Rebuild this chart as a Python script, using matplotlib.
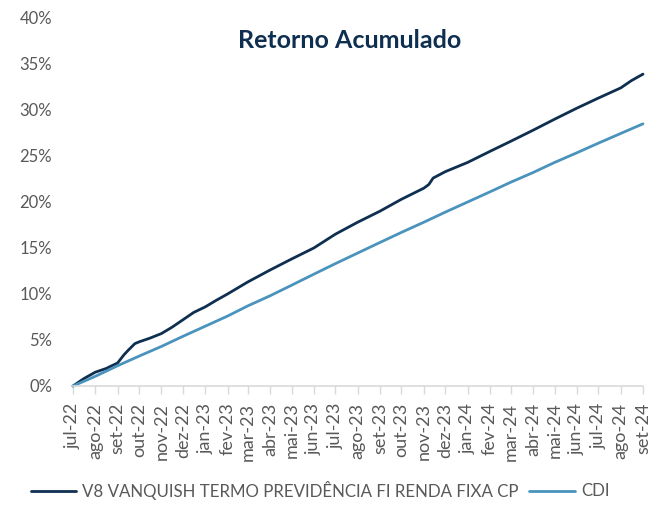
import matplotlib
matplotlib.use("Agg")
import matplotlib.pyplot as plt
import pandas as pd
from matplotlib.ticker import FuncFormatter

# ---- data ----
v8_dates = ["2022-07-01", "2022-07-16", "2022-08-01", "2022-08-16", "2022-09-01",
            "2022-09-10", "2022-09-16", "2022-09-25", "2022-10-01", "2022-10-16",
            "2022-11-01", "2022-11-16", "2022-12-01", "2022-12-16", "2023-01-01",
            "2023-01-16", "2023-02-01", "2023-03-01", "2023-04-01", "2023-05-01",
            "2023-06-01", "2023-07-01", "2023-08-01", "2023-09-01", "2023-10-01",
            "2023-11-01", "2023-11-08", "2023-11-14", "2023-12-01", "2024-01-01",
            "2024-02-01", "2024-03-01", "2024-04-01", "2024-05-01", "2024-06-01",
            "2024-07-01", "2024-08-01", "2024-08-16", "2024-09-01"]
v8_values = [0.0, 0.8, 1.5, 1.9, 2.5,
             3.4, 3.9, 4.6, 4.8, 5.2,
             5.7, 6.4, 7.2, 8.0, 8.6,
             9.3, 10.0, 11.3, 12.6, 13.8,
             15.0, 16.5, 17.8, 19.0, 20.3,
             21.5, 21.9, 22.6, 23.3, 24.3,
             25.5, 26.6, 27.8, 29.0, 30.2,
             31.3, 32.4, 33.2, 33.9]

cdi_dates = ["2022-07-01", "2022-08-01", "2022-09-01", "2022-10-01", "2022-11-01",
             "2022-12-01", "2023-01-01", "2023-02-01", "2023-03-01", "2023-04-01",
             "2023-05-01", "2023-06-01", "2023-07-01", "2023-08-01", "2023-09-01",
             "2023-10-01", "2023-11-01", "2023-12-01", "2024-01-01", "2024-02-01",
             "2024-03-01", "2024-04-01", "2024-05-01", "2024-06-01", "2024-07-01",
             "2024-08-01", "2024-09-01"]
cdi_values = [0.0, 1.05, 2.2, 3.25, 4.3,
              5.4, 6.5, 7.6, 8.7, 9.8,
              10.95, 12.15, 13.3, 14.45, 15.6,
              16.7, 17.8, 18.9, 20.0, 21.1,
              22.15, 23.2, 24.3, 25.35, 26.4,
              27.45, 28.5]

month_labels = ["jul-22", "ago-22", "set-22", "out-22", "nov-22", "dez-22",
                "jan-23", "fev-23", "mar-23", "abr-23", "mai-23", "jun-23",
                "jul-23", "ago-23", "set-23", "out-23", "nov-23", "dez-23",
                "jan-24", "fev-24", "mar-24", "abr-24", "mai-24", "jun-24",
                "jul-24", "ago-24", "set-24"]

series_names = ["V8 VANQUISH TERMO PREVIDÊNCIA FI RENDA FIXA CP", "CDI"]
title = "Retorno Acumulado"

# ---- style ----
navy = "#0E2F50"
light = "#4A93BC"
gray_text = "#595959"
plt.rcParams["font.family"] = ["Lato", "DejaVu Sans"]

fig = plt.figure(figsize=(6.61, 5.05), dpi=100)
ax = fig.add_axes([73 / 661, 119 / 505, 570 / 661, 368 / 505])

v8_x = pd.to_datetime(v8_dates)
cdi_x = pd.to_datetime(cdi_dates)
ax.plot(v8_x, v8_values, color=navy, lw=2.0, label=series_names[0], solid_capstyle="round")
ax.plot(cdi_x, cdi_values, color=light, lw=2.0, label=series_names[1], solid_capstyle="round")

tick_dates = pd.date_range("2022-07-01", periods=len(month_labels), freq="MS")
ax.set_xticks(tick_dates)
ax.set_xticklabels(month_labels, rotation=90, fontsize=13, color=gray_text)
ax.set_xlim(tick_dates[0], tick_dates[-1])

ax.set_ylim(0, 40)
ax.set_yticks(range(0, 41, 5))
ax.yaxis.set_major_formatter(FuncFormatter(lambda v, p: f"{int(v)}%"))
ax.tick_params(axis="y", length=0, pad=15, labelsize=12, labelcolor=gray_text)
ax.tick_params(axis="x", length=6, width=1, color="#D9D9D9", pad=6)

for s in ["top", "right", "left"]:
    ax.spines[s].set_visible(False)
ax.spines["bottom"].set_color("#D9D9D9")
ax.spines["bottom"].set_linewidth(1.2)
for ln in ax.lines:
    ln.set_clip_on(False)

fig.text(350 / 661, 1 - 40 / 505, title, ha="center", va="center",
         fontsize=18, fontweight="bold", color=navy)

fig.legend(loc="center", bbox_to_anchor=(320 / 661, 1 - 490 / 505), ncol=2,
           frameon=False, fontsize=12.2, handlelength=2.7, columnspacing=0.6,
           labelcolor=gray_text, handletextpad=0.35)

fig.savefig("out.png", dpi=100)
